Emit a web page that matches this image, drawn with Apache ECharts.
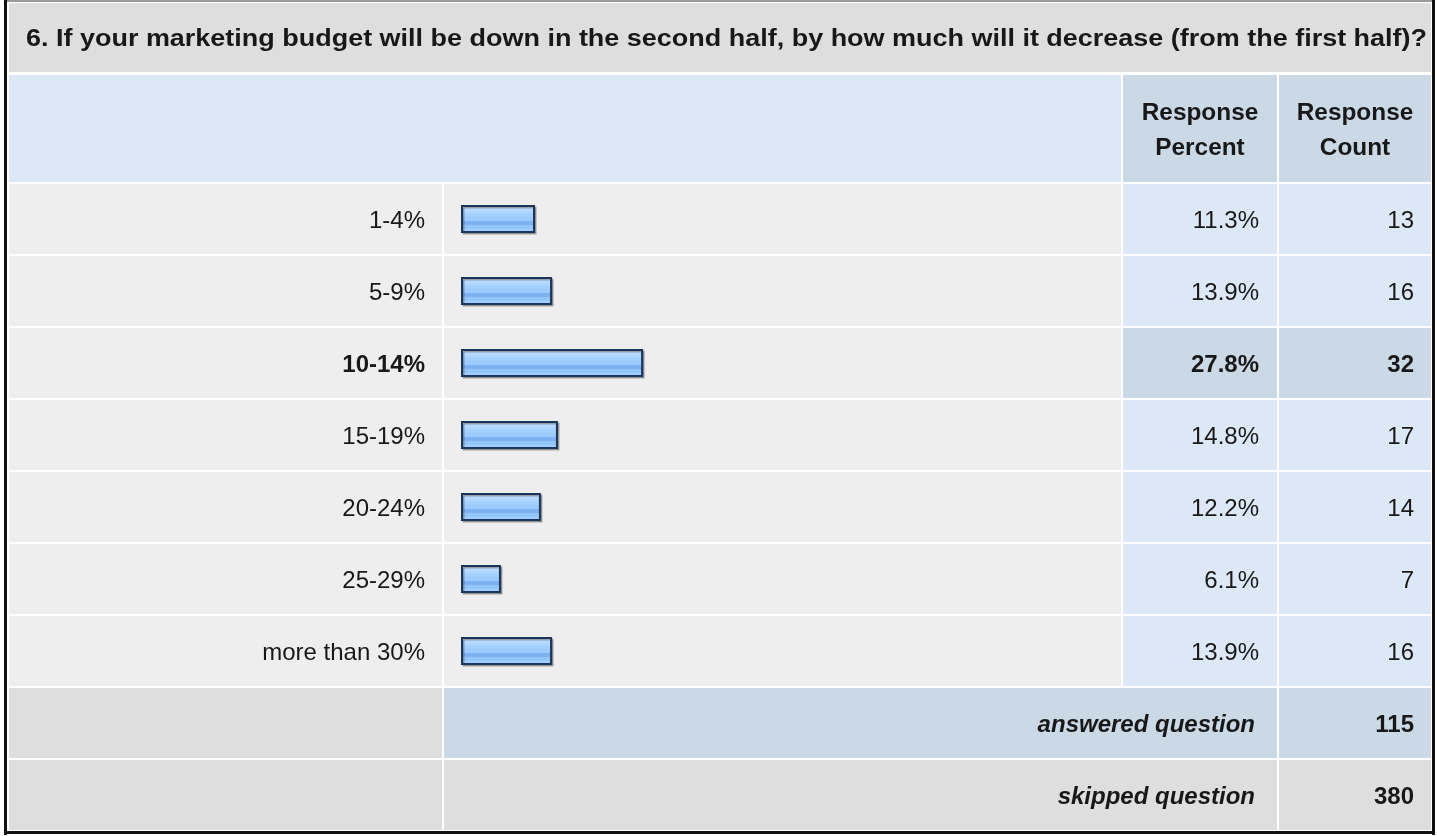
<!DOCTYPE html>
<html>
<head>
<meta charset="utf-8">
<script src="https://cdn.jsdelivr.net/npm/echarts@6/dist/echarts.min.js"></script>
<style>
html,body{margin:0;padding:0;background:#ffffff;}
#chart{width:1437px;height:836px;}
</style>
</head>
<body>
<div id="chart"></div>
<script>
// ---------- data ----------
const titleText = '6. If your marketing budget will be down in the second half, by how much will it decrease (from the first half)?';
const headerLabels = ['Response\nPercent', 'Response\nCount'];
const categories = ['1-4%', '5-9%', '10-14%', '15-19%', '20-24%', '25-29%', 'more than 30%'];
const percents = [11.3, 13.9, 27.8, 14.8, 12.2, 6.1, 13.9];
const counts = [13, 16, 32, 17, 14, 7, 16];
const summaryLabels = ['answered question', 'skipped question'];
const summaryCounts = [115, 380];

// ---------- derived ----------
const n = categories.length;
const nRows = n + summaryLabels.length;
const hi = counts.indexOf(Math.max.apply(null, counts));
const catAxisData = categories.concat(summaryLabels.map(() => ''));
const pctAxisData = percents.map(p => p.toFixed(1) + '%').concat(summaryLabels);
const cntAxisData = counts.map(String).concat(summaryCounts.map(String));
const barData = percents.concat(summaryLabels.map(() => '-'));

const FONT = '"Liberation Sans", Arial, Helvetica, sans-serif';
const TXT = '#181818';
const FS = 24;

const chart = echarts.init(document.getElementById('chart'), null, {renderer: 'canvas', width: 1437, height: 836});

const rich = {
  b: {fontFamily: FONT, fontSize: FS, fontWeight: 'bold', color: TXT},
  bi: {fontFamily: FONT, fontSize: FS, fontWeight: 'bold', fontStyle: 'italic', color: TXT, padding: [0, 4, 0, 0]}
};
const baseLabel = {fontFamily: FONT, fontSize: FS, color: TXT, interval: 0, padding: [5, 0, 0, 0], rich: rich};

const barGradient = new echarts.graphic.LinearGradient(0, 0, 0, 1, [
  {offset: 0, color: '#d4eaff'}, {offset: 0.12, color: '#d4eaff'},
  {offset: 0.12, color: '#bcdeff'}, {offset: 0.3, color: '#aad3ff'},
  {offset: 0.45, color: '#9ccbff'}, {offset: 0.56, color: '#9ccbff'},
  {offset: 0.56, color: '#7eb1f0'}, {offset: 0.72, color: '#7eb1f0'},
  {offset: 0.72, color: '#94c6fc'}, {offset: 0.86, color: '#94c6fc'},
  {offset: 0.86, color: '#a2ceff'}, {offset: 1, color: '#a2ceff'}
]);

const hiddenAxis = {axisLine: {show: false}, axisTick: {show: false}, splitLine: {show: false}};

chart.setOption({
  animation: false,
  backgroundColor: '#ffffff',
  grid: {left: 461, top: 183, width: 655, height: 72 * nRows, containLabel: false},
  xAxis: {type: 'value', min: 0, max: 100, show: false},
  yAxis: [
    Object.assign({type: 'category', inverse: true, data: catAxisData, position: 'left',
      axisLabel: Object.assign({}, baseLabel, {margin: 36,
        formatter: (v, i) => i === hi ? '{b|' + v + '}' : v})}, hiddenAxis),
    Object.assign({type: 'category', inverse: true, data: pctAxisData, position: 'right', offset: 0,
      axisLabel: Object.assign({}, baseLabel, {margin: 143, align: 'right',
        formatter: (v, i) => i === hi ? '{b|' + v + '}' : (i >= n ? '{bi|' + v + '}' : v)})}, hiddenAxis),
    Object.assign({type: 'category', inverse: true, data: cntAxisData, position: 'right', offset: 0,
      axisLabel: Object.assign({}, baseLabel, {margin: 298, align: 'right',
        formatter: (v, i) => (i === hi || i >= n) ? '{b|' + v + '}' : v})}, hiddenAxis)
  ],
  series: [{
    type: 'bar',
    yAxisIndex: 0,
    data: barData,
    barWidth: 28,
    z: 5,
    itemStyle: {
      color: barGradient,
      borderColor: '#1b365d',
      borderWidth: 2,
      shadowColor: 'rgba(70,70,70,0.45)',
      shadowOffsetX: 1.5,
      shadowOffsetY: 1.5,
      shadowBlur: 0
    },
    emphasis: {disabled: true},
    silent: true
  }]
});

// ---------- table cells (positioned from the category axis) ----------
const COLS = [
  {x: 9, w: 433},
  {x: 444, w: 677},
  {x: 1123, w: 154},
  {x: 1279, w: 152}
];
const C_TITLE = '#dedede', C_LIGHT = '#eeeeee', C_BLUE = '#dce8f5', C_BLUE2 = '#cbd8e6', C_GRAY = '#dedede';

const els = [];
function rect(x, y, w, h, fill, z) {
  els.push({type: 'rect', shape: {x: x, y: y, width: w, height: h}, style: {fill: fill}, z: z == null ? -10 : z, silent: true});
}
// frame
rect(4, 0, 1431, 2, '#9a9a9a', -5);
rect(4, 0, 3, 835, '#111111', -5);
rect(1432, 0, 3, 835, '#111111', -5);
rect(4, 831, 1431, 3, '#111111', -5);
// title + header
rect(COLS[0].x, 3, COLS[3].x + COLS[3].w - COLS[0].x, 69, C_TITLE);
rect(COLS[0].x, 75, COLS[1].x + COLS[1].w - COLS[0].x, 107, C_BLUE);
rect(COLS[2].x, 75, COLS[2].w, 107, C_BLUE2);
rect(COLS[3].x, 75, COLS[3].w, 107, C_BLUE2);

for (let i = 0; i < nRows; i++) {
  const cy = chart.convertToPixel({yAxisIndex: 0}, i);
  const y = cy - 35, h = 70;
  if (i < n) {
    rect(COLS[0].x, y, COLS[0].w, h, C_LIGHT);
    rect(COLS[1].x, y, COLS[1].w, h, C_LIGHT);
    const c = i === hi ? C_BLUE2 : C_BLUE;
    rect(COLS[2].x, y, COLS[2].w, h, c);
    rect(COLS[3].x, y, COLS[3].w, h, c);
  } else {
    const c = i === n ? C_BLUE2 : C_GRAY;
    rect(COLS[0].x, y, COLS[0].w, h, C_GRAY);
    rect(COLS[1].x, y, COLS[2].x + COLS[2].w - COLS[1].x, h, c);
    rect(COLS[3].x, y, COLS[3].w, h, c);
  }
}

// ---------- texts ----------
const measureCtx = document.createElement('canvas').getContext('2d');
function measure(text, font) { measureCtx.font = font; return measureCtx.measureText(text).width; }

const titleFont = 'bold 23px ' + FONT;
const titleScale = 1401 / measure(titleText, titleFont);
els.push({type: 'text', x: 26, y: 40, scaleX: titleScale, z: 10, silent: true,
  style: {text: titleText, font: titleFont, fill: TXT, align: 'left', verticalAlign: 'middle'}});

const headFont = 'bold 23px ' + FONT;
[2, 3].forEach((ci, k) => {
  els.push({type: 'text', x: COLS[ci].x + COLS[ci].w / 2, y: 131, scaleX: 1.06, z: 10, silent: true,
    style: {text: headerLabels[k], font: headFont, fill: TXT, align: 'center', verticalAlign: 'middle', lineHeight: 35}});
});

chart.setOption({graphic: {elements: els}});
</script>
</body>
</html>
